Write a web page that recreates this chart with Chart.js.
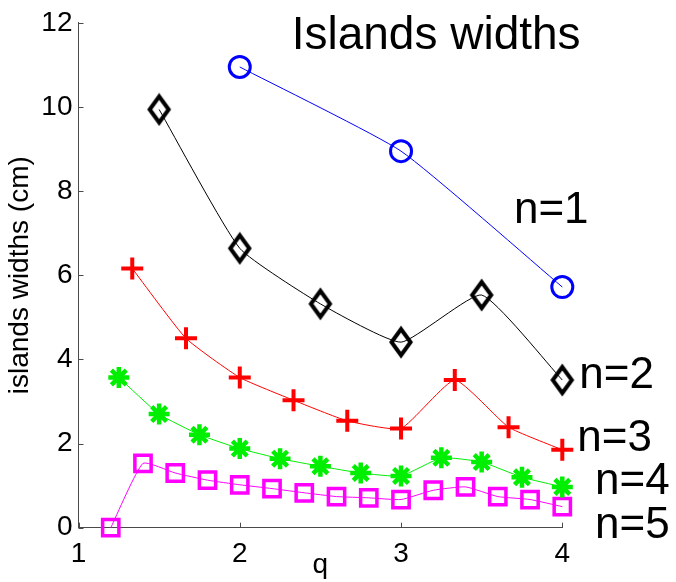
<!DOCTYPE html>
<html>
<head>
<meta charset="utf-8">
<script src="https://cdn.jsdelivr.net/npm/chart.js@4/dist/chart.umd.min.js"></script>
<style>
  html, body { margin: 0; padding: 0; background: #ffffff; }
  #wrap { width: 676px; height: 582px; }
</style>
</head>
<body>
<div id="wrap"><canvas id="c" width="676" height="582"></canvas></div>
<script>
// Island widths (cm) versus q, one series per mode number n
const q1 = [2, 3, 4];
const w1 = [10.95, 8.95, 5.72];

const q2 = [1.5, 2, 2.5, 3, 3.5, 4];
const w2 = [9.94, 6.64, 5.32, 4.41, 5.53, 3.51];

const q3 = [4 / 3, 5 / 3, 2, 7 / 3, 8 / 3, 3, 10 / 3, 11 / 3, 4];
const w3 = [6.16, 4.50, 3.57, 3.03, 2.54, 2.36, 3.51, 2.39, 1.85];

const q4 = [1.25, 1.5, 1.75, 2, 2.25, 2.5, 2.75, 3, 3.25, 3.5, 3.75, 4];
const w4 = [3.57, 2.70, 2.21, 1.88, 1.64, 1.46, 1.30, 1.23, 1.66, 1.56, 1.20, 0.97];

const q5 = [1.2, 1.4, 1.6, 1.8, 2.0, 2.2, 2.4, 2.6, 2.8, 3.0, 3.2, 3.4, 3.6, 3.8, 4.0];
const w5 = [0.00, 1.53, 1.30, 1.13, 1.02, 0.93, 0.83, 0.74, 0.71, 0.67, 0.89, 0.97, 0.74, 0.67, 0.50];

const seriesNames = ['n=1', 'n=2', 'n=3', 'n=4', 'n=5'];
const xTicks = [1, 2, 3, 4];
const yTicks = [0, 2, 4, 6, 8, 10, 12];

const FONT = '"Liberation Sans", Arial, Helvetica, sans-serif';
const AXIS_COLOR = '#4a4a4a';

// Tall diamond marker drawn once on its own canvas
function diamondMarker(color) {
  const cv = document.createElement('canvas');
  cv.width = 28; cv.height = 34;
  const g = cv.getContext('2d');
  g.strokeStyle = color;
  g.lineWidth = 4;
  g.lineJoin = 'miter';
  g.beginPath();
  g.moveTo(14, 4);
  g.lineTo(23.5, 17);
  g.lineTo(14, 30);
  g.lineTo(4.5, 17);
  g.closePath();
  g.stroke();
  return cv;
}

function pairs(xs, ys) {
  return xs.map((x, i) => ({ x: x, y: ys[i] }));
}

function series(label, xs, ys, color, style, radius, width) {
  return {
    label: label,
    data: pairs(xs, ys),
    borderColor: color,
    borderWidth: 1,
    tension: 0.15,
    pointStyle: style,
    pointRadius: radius,
    pointBorderColor: color,
    pointBackgroundColor: 'rgba(0,0,0,0)',
    pointBorderWidth: width,
    clip: false
  };
}

// Text placed in data coordinates: chart heading and series labels
const notes = [
  { text: 'Islands widths', x: 2.322, y: 11.38, size: 46 },
  { text: seriesNames[0], x: 3.70, y: 7.24, size: 44 },
  { text: seriesNames[1], x: 4.105, y: 3.32, size: 44 },
  { text: seriesNames[2], x: 4.093, y: 1.83, size: 44 },
  { text: seriesNames[3], x: 4.203, y: 0.81, size: 44 },
  { text: seriesNames[4], x: 4.203, y: -0.25, size: 44 }
];

const notesPlugin = {
  id: 'notes',
  afterDraw(chart) {
    const ctx = chart.ctx;
    const xs = chart.scales.x, ys = chart.scales.y;
    ctx.save();
    ctx.fillStyle = '#000000';
    ctx.textAlign = 'left';
    ctx.textBaseline = 'alphabetic';
    notes.forEach(n => {
      ctx.font = n.size + 'px ' + FONT;
      ctx.fillText(n.text, xs.getPixelForValue(n.x), ys.getPixelForValue(n.y));
    });
    ctx.restore();
  }
};

// Tick marks pointing into the plot area
const innerTicks = {
  id: 'innerTicks',
  afterDatasetsDraw(chart) {
    const ctx = chart.ctx;
    const xs = chart.scales.x, ys = chart.scales.y;
    const a = chart.chartArea;
    ctx.save();
    ctx.strokeStyle = AXIS_COLOR;
    ctx.lineWidth = 1;
    ctx.beginPath();
    yTicks.forEach(v => {
      const p = Math.round(ys.getPixelForValue(v)) + 0.5;
      ctx.moveTo(a.left, p);
      ctx.lineTo(a.left + 5, p);
    });
    xTicks.forEach(v => {
      const p = Math.round(xs.getPixelForValue(v)) + 0.5;
      ctx.moveTo(p, a.bottom);
      ctx.lineTo(p, a.bottom - 5);
    });
    ctx.stroke();
    ctx.restore();
  }
};

new Chart(document.getElementById('c'), {
  type: 'line',
  data: {
    datasets: [
      series(seriesNames[0], q1, w1, '#0000ff', 'circle', 10.5, 3),
      series(seriesNames[1], q2, w2, '#000000', diamondMarker('#000000'), 13, 4),
      series(seriesNames[2], q3, w3, '#ff0000', 'cross', 11, 4),
      series(seriesNames[3], q4, w4, '#00ee00', 'star', 10.5, 4.5),
      series(seriesNames[4], q5, w5, '#ff00ff', 'rect', 11.5, 3.5)
    ]
  },
  options: {
    responsive: false,
    animation: false,
    events: [],
    layout: { padding: { top: 18.7, right: 113.7, left: 0, bottom: 0 } },
    plugins: {
      legend: { display: false },
      tooltip: { enabled: false }
    },
    scales: {
      x: {
        type: 'linear',
        min: 1,
        max: 4,
        afterBuildTicks: s => { s.ticks = xTicks.map(v => ({ value: v })); },
        afterFit: s => { s.height = 54.3; },
        grid: { display: true, drawOnChartArea: false, drawTicks: false },
        border: { display: true, color: AXIS_COLOR, width: 1 },
        ticks: {
          color: '#000000',
          padding: 10,
          font: { family: FONT, size: 28 },
          callback: v => String(v)
        },
        title: {
          display: true,
          text: 'q',
          color: '#000000',
          padding: { top: 0, bottom: 0 },
          font: { family: FONT, size: 28 }
        }
      },
      y: {
        type: 'linear',
        min: 0,
        max: 12,
        afterBuildTicks: s => { s.ticks = yTicks.map(v => ({ value: v })); },
        afterFit: s => { s.width = 78.5; },
        grid: { display: true, drawOnChartArea: false, drawTicks: false },
        border: { display: true, color: AXIS_COLOR, width: 1 },
        ticks: {
          color: '#000000',
          padding: 6,
          font: { family: FONT, size: 28 },
          callback: v => String(v)
        },
        title: {
          display: true,
          text: 'islands widths (cm)',
          color: '#000000',
          padding: { top: 3, bottom: 0 },
          font: { family: FONT, size: 28 }
        }
      }
    }
  },
  plugins: [notesPlugin, innerTicks]
});
</script>
</body>
</html>
